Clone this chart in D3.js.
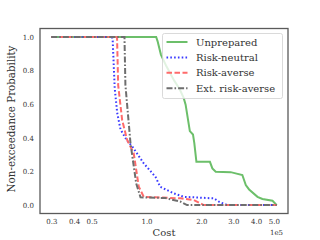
<!DOCTYPE html>
<html>
<head>
<meta charset="utf-8">
<script src="https://cdn.jsdelivr.net/npm/d3@7"></script>
<style>
  body { margin: 0; background: #fff; }
  text { font-family: "DejaVu Serif", serif; fill: #333; }
</style>
</head>
<body>
<div id="chart"></div>
<script>
// cost values are in units of 1e5
const unprepared = [
  [0.30, 1.0], [1.13, 1.0], [1.15, 0.975], [1.20, 0.895], [1.28, 0.83], [1.42, 0.74],
  [1.52, 0.69], [1.60, 0.637], [1.64, 0.597], [1.73, 0.44], [1.80, 0.42], [1.83, 0.37],
  [1.88, 0.257], [2.23, 0.257], [2.30, 0.218], [2.40, 0.198], [2.90, 0.196], [3.36, 0.179],
  [3.51, 0.119], [3.66, 0.093], [4.07, 0.049], [4.33, 0.036], [4.92, 0.026], [5.19, 0.0]
];
const riskNeutral = [
  [0.30, 1.0], [0.647, 1.0], [0.652, 0.982], [0.669, 0.696], [0.69, 0.55], [0.72, 0.45],
  [0.78, 0.385], [0.84, 0.345], [0.966, 0.248], [1.12, 0.168], [1.19, 0.109], [1.41, 0.070],
  [1.60, 0.049], [2.35, 0.040], [2.50, 0.020], [2.78, 0.0], [5.19, 0.0]
];
const riskAverse = [
  [0.30, 1.0], [0.689, 1.0], [0.699, 0.714], [0.735, 0.506], [0.783, 0.387], [0.851, 0.308],
  [0.907, 0.109], [0.966, 0.049], [1.12, 0.046], [1.54, 0.040], [1.82, 0.030], [1.98, 0.010],
  [2.06, 0.0], [5.19, 0.0]
];
const extRiskAverse = [
  [0.30, 1.0], [0.757, 1.0], [0.766, 0.714], [0.817, 0.367], [0.878, 0.129], [0.927, 0.046],
  [1.27, 0.042], [1.54, 0.020], [1.67, 0.0], [5.19, 0.0]
];
const seriesNames = ['Unprepared', 'Risk-neutral', 'Risk-averse', 'Ext. risk-averse'];
const xTicks = [0.3, 0.4, 0.5, 1.0, 2.0, 3.0, 4.0, 5.0];
const yTicks = [0, 0.2, 0.4, 0.6, 0.8, 1.0];

const width = 320, height = 240;
const margin = { left: 40, right: 32, top: 28.5, bottom: 26.5 };
const serif = '"DejaVu Serif", serif';

const svg = d3.select('#chart').append('svg')
  .attr('width', width)
  .attr('height', height);

// log axis with 5% padding like matplotlib
const lo = Math.log10(0.30), hi = Math.log10(5.19);
const pad = (hi - lo) * 0.05;
const x = d3.scaleLog()
  .domain([Math.pow(10, lo - pad), Math.pow(10, hi + pad)])
  .range([margin.left, width - margin.right]);
const y = d3.scaleLinear()
  .domain([-0.05, 1.05])
  .range([height - margin.bottom, margin.top]);

const styles = [
  { data: unprepared, color: '#6cbf6a', dash: null, width: 2 },
  { data: riskNeutral, color: '#3a3aff', dash: '1.6,2.2', width: 2 },
  { data: riskAverse, color: '#ff6b6b', dash: '5.5,2.5', width: 2 },
  { data: extRiskAverse, color: '#6e6e6e', dash: '6,2,1.6,2', width: 2 }
];

const line = d3.line()
  .x(d => x(d[0]))
  .y(d => y(d[1]));

const g = svg.append('g');
g.selectAll('path.series')
  .data(styles)
  .join('path')
  .attr('class', 'series')
  .attr('d', d => line(d.data))
  .attr('fill', 'none')
  .attr('stroke', d => d.color)
  .attr('stroke-width', d => d.width)
  .attr('stroke-dasharray', d => d.dash);

// frame
svg.append('rect')
  .attr('x', margin.left)
  .attr('y', margin.top)
  .attr('width', width - margin.left - margin.right)
  .attr('height', height - margin.top - margin.bottom)
  .attr('fill', 'none')
  .attr('stroke', '#5a5a5a')
  .attr('stroke-width', 1.3);

// x axis (no tick marks)
const xAxis = d3.axisBottom(x)
  .tickValues(xTicks)
  .tickFormat(d3.format('.1f'))
  .tickSize(0)
  .tickPadding(6);
svg.append('g')
  .attr('transform', `translate(0,${height - margin.bottom})`)
  .call(xAxis)
  .call(a => a.select('.domain').remove())
  .selectAll('text')
  .attr('font-family', serif)
  .attr('font-size', 7)
  .attr('fill', '#333');

const yAxis = d3.axisLeft(y)
  .tickValues(yTicks)
  .tickFormat(d3.format('.1f'))
  .tickSize(0)
  .tickPadding(6);
svg.append('g')
  .attr('transform', `translate(${margin.left},0)`)
  .call(yAxis)
  .call(a => a.select('.domain').remove())
  .selectAll('text')
  .attr('font-family', serif)
  .attr('font-size', 7)
  .attr('fill', '#333');

// offset text
svg.append('text')
  .attr('x', 283)
  .attr('y', 235)
  .attr('text-anchor', 'end')
  .attr('font-family', serif)
  .attr('font-size', 7)
  .text('1e5');

// axis labels
svg.append('text')
  .attr('x', 164)
  .attr('y', 236)
  .attr('text-anchor', 'middle')
  .attr('font-family', serif)
  .attr('font-size', 10)
  .text('Cost');

svg.append('text')
  .attr('transform', 'translate(14.5,119) rotate(-90)')
  .attr('text-anchor', 'middle')
  .attr('font-family', serif)
  .attr('font-size', 10.3)
  .text('Non-exceedance Probability');

// legend
const legend = svg.append('g').attr('transform', 'translate(162.5,33.5)');
legend.append('rect')
  .attr('width', 120)
  .attr('height', 65)
  .attr('rx', 2)
  .attr('fill', '#fff')
  .attr('fill-opacity', 0.8)
  .attr('stroke', '#d0d0d0')
  .attr('stroke-width', 0.8);

const items = legend.selectAll('g.item')
  .data(styles)
  .join('g')
  .attr('class', 'item')
  .attr('transform', (d, i) => `translate(0,${8.5 + i * 15.4})`);
items.append('line')
  .attr('x1', 4).attr('x2', 25)
  .attr('stroke', d => d.color)
  .attr('stroke-width', d => d.width)
  .attr('stroke-dasharray', d => d.dash);
items.append('text')
  .attr('x', 33.5)
  .attr('dy', '0.35em')
  .attr('font-family', serif)
  .attr('font-size', 10)
  .text((d, i) => seriesNames[i]);
</script>
</body>
</html>
